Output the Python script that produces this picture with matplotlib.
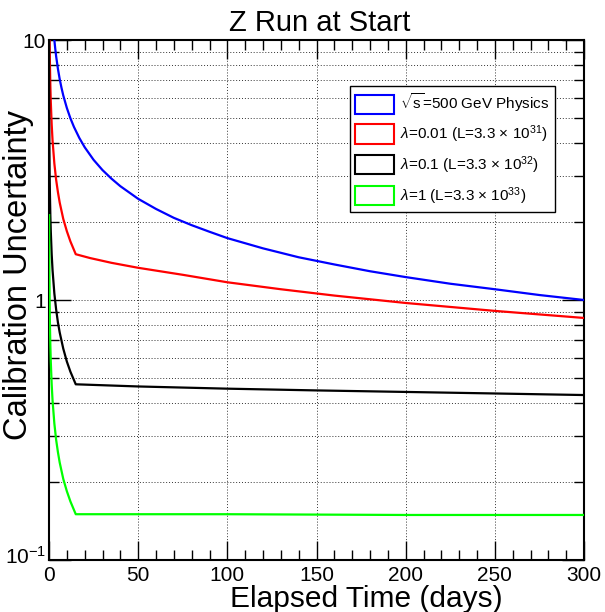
import matplotlib
matplotlib.use("Agg")
import matplotlib.pyplot as plt
from matplotlib.patches import Patch
from matplotlib.ticker import FixedLocator, FixedFormatter, MultipleLocator, NullFormatter
from matplotlib.transforms import ScaledTranslation

plt.rcParams['font.family'] = ['Liberation Sans', 'DejaVu Sans']
plt.rcParams['mathtext.fontset'] = 'custom'
plt.rcParams['mathtext.rm'] = 'Liberation Sans'
plt.rcParams['mathtext.it'] = 'Liberation Sans:italic'
plt.rcParams['mathtext.cal'] = 'Liberation Sans'

# calibration uncertainty vs elapsed time (days)
blue_days = [3, 3.5, 4, 5, 6, 7, 8, 10, 12, 14, 17, 20, 25, 30, 35, 40, 50,
             60, 70, 80, 90, 100, 120, 140, 160, 180, 200, 225, 250, 275, 300]
blue_vals = [10.0, 9.26, 8.66, 7.75, 7.07, 6.55, 6.12, 5.48, 5.0, 4.63, 4.20,
             3.87, 3.46, 3.16, 2.93, 2.74, 2.45, 2.24, 2.07, 1.94, 1.83, 1.73,
             1.58, 1.46, 1.37, 1.29, 1.225, 1.155, 1.10, 1.045, 1.0]

red_days = [0.34, 0.5, 0.75, 1, 1.5, 2, 3, 4, 5, 6, 8, 10, 12, 15,
            23, 35, 50, 75, 100, 130, 160, 200, 250, 300]
red_vals = [10.0, 8.2, 6.7, 5.8, 4.74, 4.1, 3.35, 2.9, 2.6, 2.37, 2.05, 1.84,
            1.68, 1.50, 1.45, 1.39, 1.33, 1.25, 1.17, 1.10, 1.04, 0.974,
            0.908, 0.853]

black_days = [0.034, 0.05, 0.1, 0.2, 0.35, 0.5, 0.75, 1, 1.5, 2, 3, 4, 5, 6,
              8, 10, 12, 15, 50, 100, 150, 200, 250, 300]
black_vals = [10.0, 8.2, 5.8, 4.1, 3.1, 2.6, 2.12, 1.84, 1.5, 1.30, 1.06, 0.92,
              0.82, 0.75, 0.65, 0.58, 0.53, 0.474, 0.465, 0.456, 0.449, 0.443,
              0.437, 0.431]

green_days = [0.075, 0.1, 0.2, 0.35, 0.5, 0.75, 1, 1.5, 2, 3, 4, 5, 6, 8, 10,
              12, 15, 100, 200, 300]
green_vals = [2.12, 1.84, 1.30, 0.98, 0.82, 0.67, 0.58, 0.474, 0.41, 0.335,
              0.29, 0.26, 0.237, 0.205, 0.184, 0.168, 0.150, 0.150, 0.149, 0.149]

labels = [r'$\sqrt{\mathrm{s}}$=500 GeV Physics',
          r'$\lambda$=0.01 (L=3.3 $\times$ 10$^{31}$)',
          r'$\lambda$=0.1 (L=3.3 $\times$ 10$^{32}$)',
          r'$\lambda$=1 (L=3.3 $\times$ 10$^{33}$)']
colors = ['#0000ff', '#ff0000', '#000000', '#00ff00']

W, H = 605, 612
fig = plt.figure(figsize=(W / 100, H / 100), dpi=100)
ax = fig.add_axes([49 / W, 1 - 560 / H, 535 / W, 520 / H])

series = [(blue_days, blue_vals), (red_days, red_vals),
          (black_days, black_vals), (green_days, green_vals)]
for (d, v), c in zip(series, colors):
    ax.plot(d, v, color=c, lw=1.6, clip_on=True, zorder=3)

ax.set_yscale('log')
ax.set_xlim(0, 300)
ax.set_ylim(0.1, 10)

# ticks on all four sides, pointing inward
ax.xaxis.set_major_locator(MultipleLocator(50))
ax.xaxis.set_minor_locator(MultipleLocator(10))
ax.yaxis.set_major_locator(FixedLocator([0.1, 1, 10]))
ax.yaxis.set_major_formatter(FixedFormatter([r'$10^{-1}$', '1', '10']))
minor_y = [m * 0.1 for m in range(2, 10)] + list(range(2, 10))
ax.yaxis.set_minor_locator(FixedLocator(minor_y))
ax.yaxis.set_minor_formatter(NullFormatter())
ax.tick_params(which='both', direction='in', top=True, right=True,
               labelsize=15, width=1, pad=4)
ax.tick_params(axis='y', which='both', pad=2)
ax.tick_params(which='major', length=14)
ax.tick_params(which='minor', length=7)
ax.tick_params(axis='y', which='major', length=16)

# nudge the bottom y label up so it clears the "0" below it
low = ax.yaxis.get_major_ticks()[0].label1
low.set_transform(low.get_transform()
                  + ScaledTranslation(0, 5 / 100, fig.dpi_scale_trans))

# dotted grid
ax.grid(True, which='major', axis='x', ls=(0, (1, 2)), color='#333333', lw=0.7)
ax.grid(True, which='both', axis='y', ls=(0, (1, 2)), color='#333333', lw=0.7)

for s in ax.spines.values():
    s.set_linewidth(1.5)

fig.text(320 / W, 1 - 31 / H, 'Z Run at Start', fontsize=21,
         ha='center', va='baseline')
fig.text(366 / W, 1 - 607 / H, 'Elapsed Time (days)', fontsize=21.5,
         ha='center', va='baseline')
fig.text(27 / W, 1 - 275 / H, 'Calibration Uncertainty', fontsize=23.5,
         ha='center', va='baseline', rotation=90, rotation_mode='anchor')

handles = [Patch(facecolor='none', edgecolor=c, lw=1.5) for c in colors]
leg = ax.legend(handles, labels, loc='upper left',
                bbox_to_anchor=((350 - 49) / 535, 1 - (86 - 40) / 520),
                fontsize=11, frameon=True, fancybox=False, framealpha=1,
                edgecolor='black', handlelength=2.5, handleheight=1.55,
                labelspacing=0.6, borderpad=0.35, handletextpad=0.45,
                borderaxespad=0)
leg.get_frame().set_linewidth(1.0)
leg.set_zorder(5)

fig.savefig('out.png', dpi=100)
